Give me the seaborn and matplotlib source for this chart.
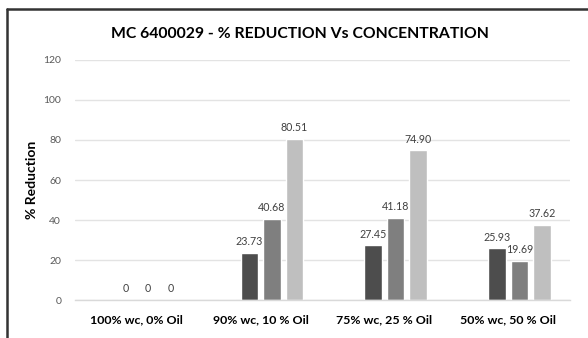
import matplotlib
matplotlib.use('Agg')
import matplotlib.pyplot as plt
from matplotlib.lines import Line2D
import pandas as pd
import seaborn as sns

# data (first series slot is empty in the original)
categories = ['100% wc, 0% Oil', '90% wc, 10 % Oil', '75% wc, 25 % Oil', '50% wc, 50 % Oil']
series = ['S0', 'S1', 'S2', 'S3']
s0 = [0, 0, 0, 0]
s1 = [0, 23.73, 27.45, 25.93]
s2 = [0, 40.68, 41.18, 19.69]
s3 = [0, 80.51, 74.90, 37.62]
yticks = [0, 20, 40, 60, 80, 100, 120]

rows = []
for i, cat in enumerate(categories):
    for name, vals in zip(series, [s0, s1, s2, s3]):
        rows.append({'cat': cat, 'series': name, 'value': vals[i]})
df = pd.DataFrame(rows)

sns.set_theme(style='white')
plt.rcParams['font.family'] = ['Lato', 'DejaVu Sans']

fig = plt.figure(figsize=(5.88, 3.38), dpi=100)
ax = fig.add_axes([0.1276, 0.1124, 0.8418, 0.7101])

palette = ['#ffffff', '#4d4d4d', '#7f7f7f', '#bfbfbf']
sns.barplot(data=df, x='cat', y='value', hue='series', hue_order=series, palette=palette,
            width=0.727, gap=0.22, ax=ax, legend=False, saturation=1)

for name, cont in zip(series, ax.containers):
    if name == 'S0':
        continue
    labels = []
    for b in cont:
        v = b.get_height()
        labels.append('0' if v == 0 else '{:.2f}'.format(v))
    ax.bar_label(cont, labels=labels, padding=4, fontsize=7.7, color='#404040')

ax.set_ylim(0, 120)
ax.set_yticks(yticks)
ax.set_xlim(-0.5, 3.5)
ax.yaxis.grid(True, color='#e3e3e3', linewidth=1)
ax.set_axisbelow(True)
sns.despine(ax=ax, left=True, right=True, top=True)
ax.spines['bottom'].set_color('#d9d9d9')
ax.spines['bottom'].set_linewidth(1)

ax.tick_params(axis='y', length=0, pad=10, labelsize=7.5, labelcolor='#595959')
ax.tick_params(axis='x', length=0, pad=10, labelsize=8.9, labelcolor='#000000')
for t in ax.get_xticklabels():
    t.set_fontweight('bold')

ax.set_xlabel('')
ax.set_ylabel('% Reduction', fontsize=10, fontweight='bold', color='#000000', labelpad=4)
fig.text(0.51, 0.90, 'MC 6400029 - % REDUCTION Vs CONCENTRATION', ha='center', va='center',
         fontsize=11.3, fontweight='bold', color='#000000')

# screenshot frame on left and top
fig.add_artist(Line2D([7 / 588, 7 / 588], [0, 1 - 9 / 338], transform=fig.transFigure,
                      color='#333333', linewidth=1.8))
fig.add_artist(Line2D([7 / 588, 1], [1 - 9 / 338, 1 - 9 / 338], transform=fig.transFigure,
                      color='#333333', linewidth=1.8))

fig.savefig('out.png', dpi=100)
